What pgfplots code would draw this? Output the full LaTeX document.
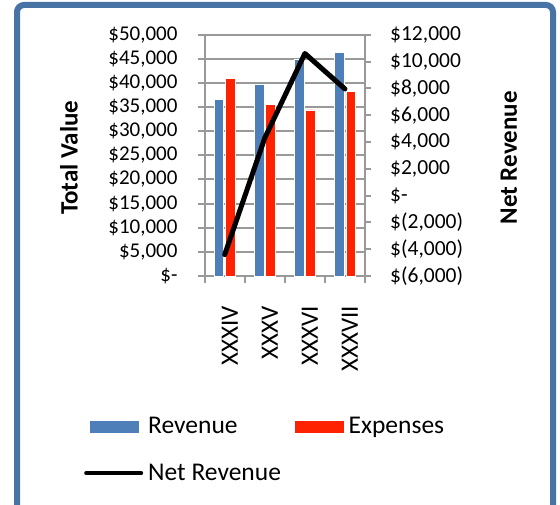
\documentclass[border=0pt]{standalone}
\usepackage{pgfplots}
\pgfplotsset{compat=1.18}
\usepackage{fontspec}
\setmainfont{Carlito}
\definecolor{barblue}{HTML}{4F7FB8}
\definecolor{barred}{HTML}{FF2200}
\definecolor{framecol}{HTML}{4873A5}
\definecolor{gridgray}{HTML}{999999}
\begin{document}
\begin{tikzpicture}
\useasboundingbox (0,0) rectangle (560pt,504pt);
\clip (0,0) rectangle (560pt,504pt);
\fill[white] (0,0) rectangle (560pt,504pt);
\draw[line width=6pt, framecol, rounded corners=7pt] (17pt,-30pt) -- (17pt,499pt) -- (553pt,499pt) -- (553pt,-30pt);
\begin{axis}[
  at={(204.7pt,228pt)}, anchor=south west,
  scale only axis, width=160.3pt, height=241.3pt,
  xmin=-0.5, xmax=3.5, ymin=0, ymax=50000,
  scaled y ticks=false,
  axis x line*=bottom, axis y line*=left,
  axis line style={draw=gridgray, line width=2pt},
  tick style={draw=gridgray, line width=2pt},
  tick align=outside,
  ymajorgrids, grid style={draw=gridgray, line width=2pt},
  ytick={0,5000,...,50000},
  yticklabels={{\$-},{\$5,000},{\$10,000},{\$15,000},{\$20,000},{\$25,000},{\$30,000},{\$35,000},{\$40,000},{\$45,000},{\$50,000}},
  yticklabel style={font=\fontsize{21}{24}\selectfont, anchor=east, inner sep=0pt, xshift=-20pt},
  major tick length=7pt,
  xtick={0,1,2,3},
  xticklabels={XXXIV,XXXV,XXXVI,XXXVII},
  x tick style={draw=none},
  xticklabel style={font=\fontsize{25}{28}\selectfont, xshift=5pt, yshift=-23pt, rotate=90, anchor=east, inner sep=0pt},
  extra x ticks={-0.5,0.5,1.5,2.5,3.5},
  extra x tick labels={},
  extra x tick style={x tick style={draw=gridgray, line width=2pt}},
  ylabel={Total Value},
  ylabel style={at={(axis description cs:-0.8466,0.49)}, anchor=center, font=\fontsize{25}{30}\selectfont\bfseries},
  ybar, bar width=9.5pt,
]
\addplot[fill=barblue, draw=white, line width=0.8pt, bar shift=-5.6pt] coordinates {(0,36600) (1,39800) (2,44900) (3,46300)};
\addplot[fill=barred, draw=white, line width=0.8pt, bar shift=5.7pt] coordinates {(0,41000) (1,35500) (2,34400) (3,38300)};
\end{axis}
\begin{axis}[
  at={(204.7pt,228pt)}, anchor=south west,
  scale only axis, width=160.3pt, height=241.3pt,
  xmin=-0.5, xmax=3.5, ymin=-6000, ymax=12000,
  scaled y ticks=false,
  axis x line=none, axis y line*=right,
  axis line style={draw=gridgray, line width=2pt},
  tick style={draw=gridgray, line width=2pt},
  tick align=outside, major tick length=6pt,
  ytick={-6000,-4000,...,12000},
  yticklabels={{\$(6,000)},{\$(4,000)},{\$(2,000)},{\$-},{\$2,000},{\$4,000},{\$6,000},{\$8,000},{\$10,000},{\$12,000}},
  yticklabel style={font=\fontsize{21.5}{24}\selectfont, anchor=west, inner sep=0pt, xshift=19pt},
  ylabel={Net Revenue},
  ylabel style={at={(axis description cs:1.898,0.49)}, anchor=center, font=\fontsize{25}{30}\selectfont\bfseries},
  legend columns=2,
  legend cell align=left,
  legend style={at={(axis description cs:-0.753,-0.585)}, anchor=north west, draw=none, fill=none, inner sep=0pt,
    font=\fontsize{25.5}{30}\selectfont,
    nodes={inner sep=0pt},
    row sep=29pt,
    /tikz/every odd column/.append style={column sep=5pt},
    /tikz/every even column/.append style={column sep=14pt}},
]
\addlegendimage{legend image code/.code={\fill[barblue] (3.7pt,-5.5pt) rectangle (52pt,5.5pt);}}
\addlegendentry{Revenue}
\addlegendimage{legend image code/.code={\fill[barred] (3.7pt,-5.5pt) rectangle (52pt,5.5pt);}}
\addlegendentry{Expenses}
\addplot[black, line width=5pt, line cap=round, line join=round, legend image code/.code={\draw[black, line width=4pt, line cap=round] (0pt,0pt) -- (55pt,0pt);}] coordinates {(0,-4400) (1,4300) (2,10600) (3,7950)};
\addlegendentry{Net Revenue}
\end{axis}
\end{tikzpicture}
\end{document}
